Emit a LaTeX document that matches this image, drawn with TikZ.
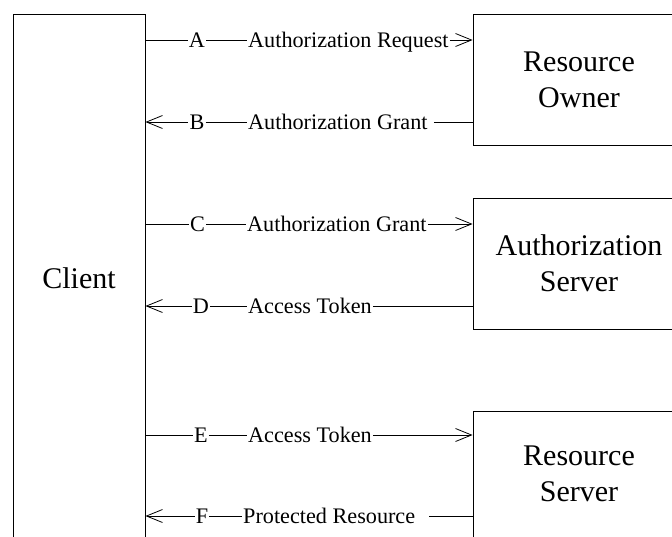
\documentclass[tikz,border=0pt]{standalone}
\usepackage{fontspec}
\setmainfont{Liberation Serif}
\usetikzlibrary{arrows.meta}
\begin{document}
\begin{tikzpicture}[x=1pt,y=-1pt,
  box/.style={draw,line width=0.85pt,inner sep=0pt,align=center,font=\fontsize{30}{36}\selectfont},
  lbl/.style={inner xsep=1pt,inner ysep=0pt,text height=15pt,text depth=0pt,font=\fontsize{22.2}{25}\selectfont},
  conn/.style={line width=0.8pt},
  tip/.style={-{Straight Barb[length=16pt,width=13pt,line width=0.8pt]}},
  rtip/.style={{Straight Barb[length=16pt,width=13pt,line width=0.8pt]}-}]
\useasboundingbox (0,0) rectangle (672,536);
\clip (0,0) rectangle (672,536);
% boxes
\node[box,minimum width=132pt,minimum height=528pt] (client) at (79,278) {Client};
\node[box,minimum width=212pt,minimum height=131pt] (owner) at (579,79.5) {Resource\\Owner};
\node[box,minimum width=212pt,minimum height=131pt] (auth) at (579,263.5) {Authorization\\Server};
\node[box,minimum width=212pt,minimum height=126pt] (rs) at (579,474) {Resource\\Server};
% A
\node[lbl] (A) at (197,40) {A};
\node[lbl,anchor=west] (tA) at (247,40) {Authorization Request};
\draw[conn] (client.east |- A) -- (A);
\draw[conn] (A) -- (tA);
\draw[conn,tip] (tA) -- (owner.west |- tA);
% B
\node[lbl] (B) at (197,122) {B};
\node[lbl,anchor=west] (tB) at (247,122) {Authorization Grant};
\coordinate (gB) at ([xshift=5pt]tB.east);
\draw[conn,rtip] (client.east |- B) -- (B);
\draw[conn] (B) -- (tB);
\draw[conn] (gB) -- (owner.west |- gB);
% C
\node[lbl] (C) at (197.5,224) {C};
\node[lbl,anchor=west] (tC) at (246,224) {Authorization Grant};
\draw[conn] (client.east |- C) -- (C);
\draw[conn] (C) -- (tC);
\draw[conn,tip] (tC) -- (auth.west |- tC);
% D
\node[lbl] (D) at (201,306) {D};
\node[lbl,anchor=west] (tD) at (247,306) {Access Token};
\draw[conn,rtip] (client.east |- D) -- (D);
\draw[conn] (D) -- (tD);
\draw[conn] (tD) -- (auth.west |- tD);
% E
\node[lbl] (E) at (201,435) {E};
\node[lbl,anchor=west] (tE) at (247,435) {Access Token};
\draw[conn] (client.east |- E) -- (E);
\draw[conn] (E) -- (tE);
\draw[conn,tip] (tE) -- (rs.west |- tE);
% F
\node[lbl] (F) at (202,516) {F};
\node[lbl,anchor=west] (tF) at (242,516) {Protected Resource};
\coordinate (gF) at ([xshift=13pt]tF.east);
\draw[conn,rtip] (client.east |- F) -- (F);
\draw[conn] (F) -- (tF);
\draw[conn] (gF) -- (rs.west |- gF);
\end{tikzpicture}
\end{document}
